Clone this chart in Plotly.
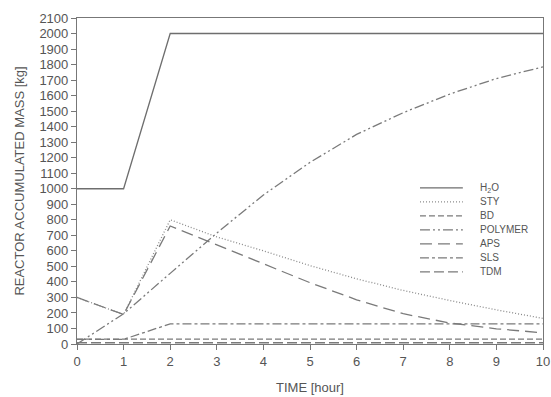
import plotly.graph_objects as go

# Reactor accumulated mass per component over the batch time
time_h = [0, 1, 2, 3, 4, 5, 6, 7, 8, 9, 10]
h2o = [1000, 1000, 2000, 2000, 2000, 2000, 2000, 2000, 2000, 2000, 2000]
sty = [300, 190, 800, 690, 600, 505, 420, 345, 280, 220, 165]
bd = [32, 32, 32, 32, 32, 32, 32, 32, 32, 32, 32]
polymer = [0, 195, 455, 715, 960, 1170, 1350, 1490, 1610, 1710, 1785]
aps = [300, 190, 760, 640, 515, 395, 285, 195, 135, 98, 72]
sls = [30, 30, 130, 130, 130, 130, 130, 130, 130, 130, 130]
tdm = [8, 8, 8, 8, 8, 8, 8, 8, 8, 8, 8]

names = ["H<sub>2</sub>O", "STY", "BD", "POLYMER", "APS", "SLS", "TDM"]
series = [h2o, sty, bd, polymer, aps, sls, tdm]
dashes = [
    "solid",
    "1px,2px",
    "6px,3px",
    "10px,3px,2px,3px,2px,3px",
    "12px,6px",
    "9px,3px,3px,3px",
    "10px,4px",
]
colors = ["#6e6e6e", "#8a8a8a", "#7a7a7a", "#7a7a7a", "#7a7a7a", "#7a7a7a", "#7a7a7a"]

fig = go.Figure()
for name, ys, dash, col in zip(names, series, dashes, colors):
    fig.add_trace(go.Scatter(
        x=time_h, y=ys, mode="lines", name=name,
        line=dict(color=col, width=1.3, dash=dash),
        showlegend=False,
    ))

# Compact legend drawn as line samples plus labels
row0, step = 0.479, 0.043
for i, (name, dash, col) in enumerate(zip(names, dashes, colors)):
    yy = row0 - i * step
    fig.add_shape(type="line", xref="paper", yref="paper",
                  x0=0.736, x1=0.828, y0=yy, y1=yy,
                  line=dict(color=col, width=1.3, dash=dash))
    fig.add_annotation(xref="paper", yref="paper", x=0.861, y=yy,
                       text=name, showarrow=False, xanchor="left",
                       yanchor="middle",
                       font=dict(size=10, color="#555555"))

axis_common = dict(
    showgrid=False, zeroline=False, showline=True, linecolor="#777777",
    linewidth=1.2, mirror=True, ticks="outside", ticklen=5,
    tickcolor="#777777", tickwidth=1, automargin=False,
    tickfont=dict(size=13, color="#555555"),
)

fig.update_layout(
    width=551, height=397,
    margin=dict(l=77, r=8, t=18, b=53),
    paper_bgcolor="white", plot_bgcolor="white",
    font=dict(family="Liberation Sans, Arial, sans-serif", color="#555555"),
    xaxis=dict(range=[0, 10], dtick=1,
               title=dict(text="TIME [hour]", font=dict(size=13), standoff=15),
               **axis_common),
    yaxis=dict(range=[0, 2100], dtick=100,
               title=dict(text="REACTOR ACCUMULATED MASS [kg]",
                          font=dict(size=13), standoff=11),
               **axis_common),
)

fig.write_html("out.html")
